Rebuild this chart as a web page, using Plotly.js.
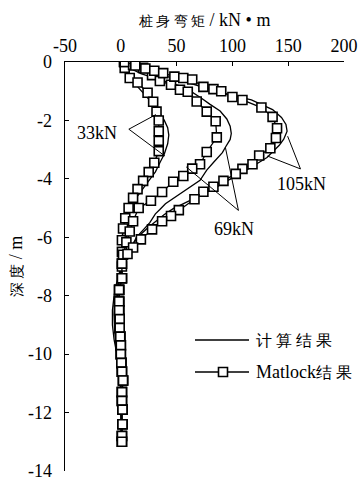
<!DOCTYPE html>
<html>
<head>
<meta charset="utf-8">
<script src="https://cdn.plot.ly/plotly-3.0.1.min.js"></script>
<style>html,body{margin:0;padding:0;background:#fff;}#chart{width:363px;height:481px;}</style>
</head>
<body>
<div id="chart"></div>
<script>
// ---- Data (depth in m, moment in kN·m) ----
// Computed results (计算结果)
const calc33Depth = [0,-0.2,-0.5,-0.8,-1.1,-1.4,-1.7,-2.0,-2.25,-2.5,-2.8,-3.15,-3.45,-3.76,-4.17,-4.5,-4.8,-5.1,-5.4,-5.8,-6.2,-6.8,-7.4,-8.0,-8.5,-9.0,-9.5,-10.0,-10.5,-11.0,-12.0,-13.0];
const calc33M     = [0,3,8,14,21,28,34,39,42,43,42,39,35,31,23,17,11,7,4,2,1,0,-1.5,-3,-3.8,-3.8,-3,-1.5,-0.3,0,0.5,0.5];
const calc69Depth = [0,-0.15,-0.4,-0.65,-0.86,-1.05,-1.23,-1.45,-1.68,-1.95,-2.2,-2.45,-2.65,-2.9,-3.1,-3.44,-3.7,-4.05,-4.43,-4.65,-4.85,-5.05,-5.2,-5.5,-5.75,-6.0,-6.3,-6.6,-7.0,-7.4,-7.8,-8.2,-8.7,-9.2,-9.7,-10.1,-10.5,-11.0,-12.0,-13.0];
const calc69M     = [0,5,18,38,57,65,72,80,89,95,98,99,98,94,91,83,77,71,56,48,40,35,31,26,20,14,10,4,1,-1.5,-3.5,-5,-6,-5.5,-4,-2,-0.5,0,0.5,0.5];
const calc105Depth = [0,-0.1,-0.3,-0.55,-0.9,-1.1,-1.3,-1.63,-1.9,-2.14,-2.37,-2.64,-2.85,-3.05,-3.27,-3.55,-3.83,-4.05,-4.28,-4.48,-4.68,-4.85,-5.02,-5.22,-5.42,-5.68,-5.93,-6.15,-6.4,-6.8,-7.2,-7.6,-8.0,-8.5,-9.0,-9.5,-10.0,-10.4,-10.8,-11.5,-12.5,-13.0];
const calc105M     = [0,5,22,47,77,95,117,136,144,148,149,146,142,137,131,119,107,96,86,76,65,56,47,39,32,24,17,12,7,3,-1,-4,-6,-7.5,-7.5,-6,-3.5,-1.5,-0.5,0,0.5,0.5];

// Matlock results (Matlock结果)
const mat33Depth = [0,-0.2,-0.55,-0.7,-1.05,-1.36,-1.7,-2.0,-2.37,-2.7,-3.05,-3.45,-3.77,-4.07,-4.35,-4.65,-5.0,-5.35,-5.7,-6.1,-6.5,-6.9,-7.4,-7.8,-8.2,-8.5,-8.8,-9.1,-9.4,-9.7,-10.0,-10.3,-10.6,-10.9,-11.3,-11.6,-11.9,-12.4,-12.8,-13.0];
const mat33M     = [3,3.5,8,15,24,29,32,34,34,34,34,30,25,20,15,11,7,4,2,1,1,1,1,-1.5,-1.5,-1.5,-1,-1,-0.5,0,0,0.5,1,2,1,1,1.5,1.5,1,1];
const mat69Depth = [0,-0.1,-0.2,-0.45,-0.65,-0.78,-0.95,-1.02,-1.35,-1.7,-2.03,-2.58,-3.08,-3.5,-3.65,-3.9,-4.1,-4.45,-4.75,-5.0,-5.45,-5.8,-6.17,-6.6,-7.0,-7.4,-7.8,-8.2,-8.5,-8.8,-9.1,-9.4,-9.7,-10.0,-10.3,-10.6,-10.9,-11.3,-11.6,-11.9,-12.4,-12.8,-13.0];
const mat69M     = [3,11,20,28,35,45,53,60,68,77,85,86,77,71,64,56,47,37,27,16,11,8,5,2,1,1,-1.5,-1.5,-1.5,-1,-1,-0.5,0,0,0.5,1,2,1,1,1.5,1.5,1,1];
const mat105Depth = [0,-0.12,-0.22,-0.3,-0.38,-0.5,-0.55,-0.6,-0.85,-0.93,-1.0,-1.2,-1.3,-1.56,-1.88,-2.27,-2.6,-2.95,-3.2,-3.5,-3.66,-3.83,-4.07,-4.27,-4.44,-4.7,-5.07,-5.27,-5.45,-5.73,-6.07,-6.35,-6.57,-6.9,-7.4,-7.8,-8.2,-8.5,-8.8,-9.1,-9.4,-9.7,-10.0,-10.3,-10.6,-10.9,-11.3,-11.6,-11.9,-12.4,-12.8,-13.0];
const mat105M     = [3,13,22,30,38,48,56,64,74,83,90,100,109,126,136,140,139,134,124,118,109,103,92,83,74,66,52,45,37,28,18,11,6,1,1,-1.5,-1.5,-1.5,-1,-1,-0.5,0,0,0.5,1,2,1,1,1.5,1.5,1,1];

// Load case labels
const loadLabels = ['33kN','69kN','105kN'];
const labelX = [-21.6, 101, 162];
const labelY = [-2.44, -5.7, -4.17];
// Leader lines: [tip1, vertex, tip2] for each label
const leaderX = [[31.5,7.2,39.6],[93.7,105.4,58.6],[149.5,161,131.5]];
const leaderY = [[-1.8,-2.3,-3.22],[-2.92,-5.08,-3.59],[-2.54,-3.66,-3.22]];

// Legend entries
const legendNames = ['计 算 结 果', 'Matlock<span style="font-size:16px">结 果</span>'];

const xTicks = [-50,0,50,100,150,200];
const yTicks = [0,-2,-4,-6,-8,-10,-12,-14];

const FONT = 'Liberation Serif';

function calcTrace(x, y){
  return {x:x, y:y, mode:'lines', type:'scatter', name:'计算结果', showlegend:false,
    line:{color:'#000', width:1.3}, hoverinfo:'skip'};
}
function matTrace(x, y){
  return {x:x, y:y, mode:'lines+markers', type:'scatter', name:'Matlock结果', showlegend:false,
    line:{color:'#000', width:1.3},
    marker:{symbol:'square', size:9, color:'#fff', line:{color:'#000', width:1.6}}, hoverinfo:'skip'};
}

const traces = [
  calcTrace(calc33M, calc33Depth),
  calcTrace(calc69M, calc69Depth),
  calcTrace(calc105M, calc105Depth),
  matTrace(mat33M, mat33Depth),
  matTrace(mat69M, mat69Depth),
  matTrace(mat105M, mat105Depth)
];

// plot area in px: 65..344 (x), 62..471 (y)
const PT = 62, PB = 471;
const px = v => (v-65)/279;
const py = v => (PB-v)/(PB-PT);

const shapes = leaderX.map((xs,i)=>({
  type:'path', xref:'x', yref:'y',
  path:'M'+xs[0]+','+leaderY[i][0]+' L'+xs[1]+','+leaderY[i][1]+' L'+xs[2]+','+leaderY[i][2],
  line:{color:'#000', width:1}
}));
// legend symbols
shapes.push({type:'line', xref:'paper', yref:'paper', x0:px(195), x1:px(249), y0:py(340), y1:py(340), line:{color:'#000', width:1.3}});
shapes.push({type:'line', xref:'paper', yref:'paper', x0:px(195), x1:px(249), y0:py(372), y1:py(372), line:{color:'#000', width:1.3}});
shapes.push({type:'rect', xref:'paper', yref:'paper', x0:px(218.5), x1:px(227.5), y0:py(376.5), y1:py(367.5), fillcolor:'#fff', line:{color:'#000', width:1.6}});

const annotations = loadLabels.map((t,i)=>({
  text:t, x:labelX[i], y:labelY[i], xref:'x', yref:'y', showarrow:false,
  font:{family:FONT, size:18, color:'#000'}
}));
annotations.push({text:legendNames[0], x:px(254), y:py(340), xref:'paper', yref:'paper', xanchor:'left', yanchor:'middle', showarrow:false, font:{family:FONT, size:16, color:'#000'}});
annotations.push({text:legendNames[1], x:px(254), y:py(372), xref:'paper', yref:'paper', xanchor:'left', yanchor:'middle', showarrow:false, font:{family:FONT, size:18, color:'#000'}});

const layout = {
  width:363, height:481,
  margin:{l:65, r:19, t:PT, b:481-PB},
  paper_bgcolor:'#fff', plot_bgcolor:'#fff',
  font:{family:FONT, size:18, color:'#000'},
  showlegend:false,
  xaxis:{
    side:'top', range:[-50,200], tickvals:xTicks, ticktext:xTicks.map(String),
    ticks:'inside', ticklen:4, tickcolor:'#000', tickwidth:1,
    showline:true, linecolor:'#000', linewidth:1.5, showgrid:false, zeroline:false,
    tickfont:{family:FONT, size:18}, ticklabelstandoff:1,
    title:{text:'<span style="font-size:14px">桩 身 弯 矩</span> / kN • m', font:{family:FONT, size:18}, standoff:5}
  },
  yaxis:{
    range:[-14,0], tickvals:yTicks, ticktext:yTicks.map(String),
    ticks:'inside', ticklen:4, tickcolor:'#000', tickwidth:1,
    showline:true, linecolor:'#000', linewidth:1.5, showgrid:false, zeroline:false,
    tickfont:{family:FONT, size:18}, ticklabelstandoff:8, ticklabeloverflow:'allow',
    title:{text:'<span style="font-size:15px">深 度</span> / m', font:{family:FONT, size:18}, standoff:0}
  },
  shapes:shapes,
  annotations:annotations
};

Plotly.newPlot('chart', traces, layout, {displayModeBar:false, staticPlot:true});
</script>
</body>
</html>
